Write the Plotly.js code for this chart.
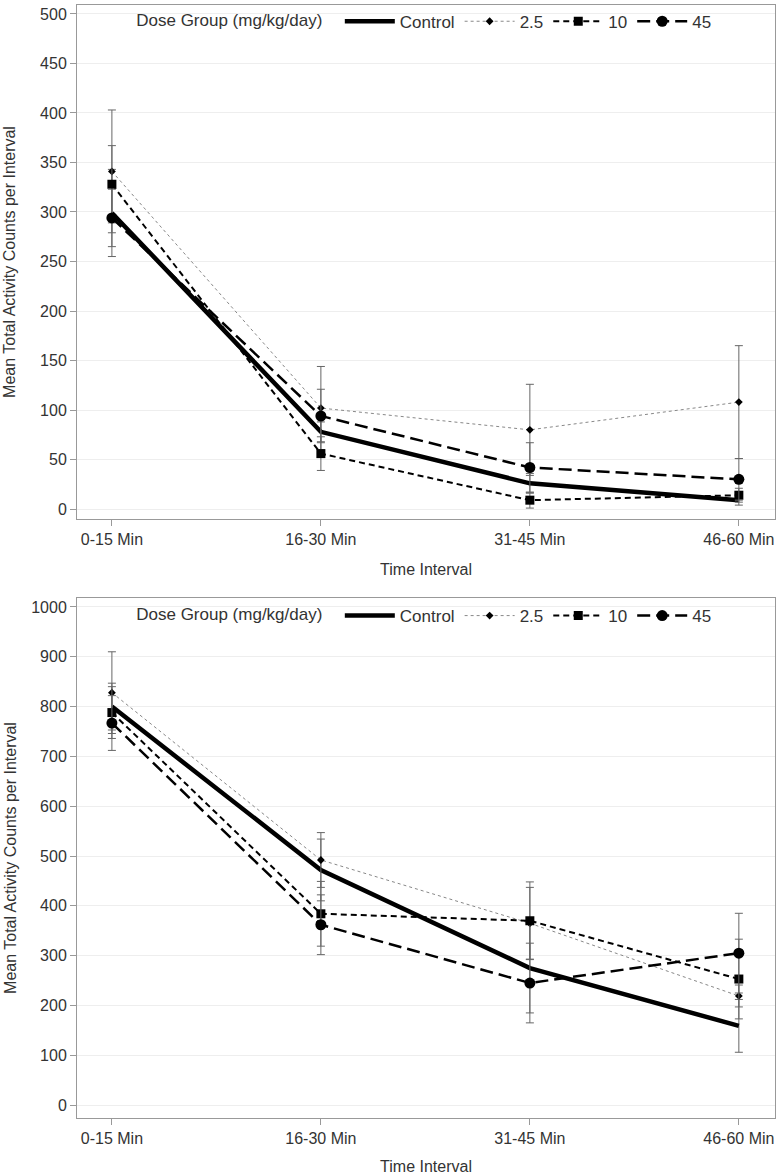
<!DOCTYPE html>
<html>
<head>
<meta charset="utf-8">
<script src="https://cdn.plot.ly/plotly-3.0.1.min.js"></script>
<style>html,body{margin:0;padding:0;background:#fff;}#chart{width:777px;height:1175px;}</style>
</head>
<body>
<div id="chart"></div>
<script>
// Categories
const intervals = ['0-15 Min', '16-30 Min', '31-45 Min', '46-60 Min'];
const seriesNames = ['Control', '2.5', '10', '45'];

// Top panel (means and error half-widths)
const ctrlTop = [299, 78, 26, 9];
const ctrlTopErr = [44, 10, 10, 5];
const d25Top = [341, 102, 80, 108];
const d25TopErr = [62, 42, 46, 57];
const d10Top = [328, 56, 9, 14];
const d10TopErr = [39, 17, 8, 7];
const d45Top = [294, 94, 42, 30];
const d45TopErr = [29, 27, 25, 21];

// Bottom panel
const ctrlBot = [800, 472, 275, 159];
const ctrlBotErr = [47, 62, 90, 53];
const d25Bot = [828, 492, 365, 219];
const d25BotErr = [82, 55, 72, 22];
const d10Bot = [788, 384, 370, 253];
const d10BotErr = [52, 65, 78, 80];
const d45Bot = [767, 362, 245, 305];
const d45BotErr = [55, 60, 80, 80];

const styles = [
  {line: {color: '#000', width: 4.5, dash: 'solid'}, mode: 'lines', marker: {}},
  {line: {color: '#888', width: 1, dash: 'dot'}, mode: 'lines+markers', marker: {symbol: 'diamond', size: 6, color: '#000'}},
  {line: {color: '#000', width: 2, dash: '6px,4px'}, mode: 'lines+markers', marker: {symbol: 'square', size: 9, color: '#000'}},
  {line: {color: '#000', width: 2.5, dash: '13px,6px'}, mode: 'lines+markers', marker: {symbol: 'circle', size: 11, color: '#000'}}
];

function mk(i, y, err, xa, ya, leg) {
  const s = styles[i];
  return {
    type: 'scatter', x: intervals, y: y, name: seriesNames[i],
    mode: s.mode, line: s.line, marker: s.marker,
    error_y: {type: 'data', array: err, visible: true, color: '#666', thickness: 1, width: 4},
    xaxis: xa, yaxis: ya, legend: leg
  };
}

const data = [
  mk(0, ctrlTop, ctrlTopErr, 'x', 'y', 'legend'),
  mk(1, d25Top, d25TopErr, 'x', 'y', 'legend'),
  mk(2, d10Top, d10TopErr, 'x', 'y', 'legend'),
  mk(3, d45Top, d45TopErr, 'x', 'y', 'legend'),
  mk(0, ctrlBot, ctrlBotErr, 'x2', 'y2', 'legend2'),
  mk(1, d25Bot, d25BotErr, 'x2', 'y2', 'legend2'),
  mk(2, d10Bot, d10BotErr, 'x2', 'y2', 'legend2'),
  mk(3, d45Bot, d45BotErr, 'x2', 'y2', 'legend2')
];

const font = {family: 'Liberation Sans, Arial, sans-serif', size: 16, color: '#333'};
const axCommon = {
  showline: true, mirror: true, linecolor: '#999', linewidth: 1,
  ticks: 'outside', ticklen: 6, tickcolor: '#999', zeroline: false,
  tickfont: {size: 16, color: '#333'}
};
const xBase = Object.assign({}, axCommon, {
  type: 'category', range: [-0.167, 3.173], showgrid: false,
  title: {text: 'Time Interval', font: {size: 16, color: '#333'}, standoff: 16}
});
const legBase = {
  orientation: 'h', bgcolor: 'rgba(0,0,0,0)', itemwidth: 50,
  font: {size: 17, color: '#333'}, traceorder: 'normal',
  title: {text: 'Dose Group (mg/kg/day)\u00a0\u00a0', side: 'left', font: {size: 17, color: '#333'}},
  xanchor: 'left', yanchor: 'middle'
};

const layout = {
  width: 777, height: 1175,
  margin: {l: 77, r: 2, t: 5, b: 57},
  paper_bgcolor: '#fff', plot_bgcolor: '#fff',
  font: font, showlegend: true,
  xaxis: Object.assign({}, xBase, {anchor: 'y'}),
  yaxis: Object.assign({}, axCommon, {
    domain: [0.5382, 1], anchor: 'x', range: [-10, 509], dtick: 50,
    showgrid: true, gridcolor: '#eeeeee',
    title: {text: 'Mean Total Activity Counts per Interval', font: {size: 16, color: '#333'}, standoff: 20}
  }),
  xaxis2: Object.assign({}, xBase, {anchor: 'y2'}),
  yaxis2: Object.assign({}, axCommon, {
    domain: [0, 0.4672], anchor: 'x2', range: [-26, 1018], dtick: 100,
    showgrid: true, gridcolor: '#eeeeee',
    title: {text: 'Mean Total Activity Counts per Interval', font: {size: 16, color: '#333'}, standoff: 10}
  }),
  legend: Object.assign({}, legBase, {x: 0.082, y: 0.985}),
  legend2: Object.assign({}, legBase, {x: 0.082, y: 0.451})
};

Plotly.newPlot('chart', data, layout, {displayModeBar: false, staticPlot: true});
</script>
</body>
</html>
